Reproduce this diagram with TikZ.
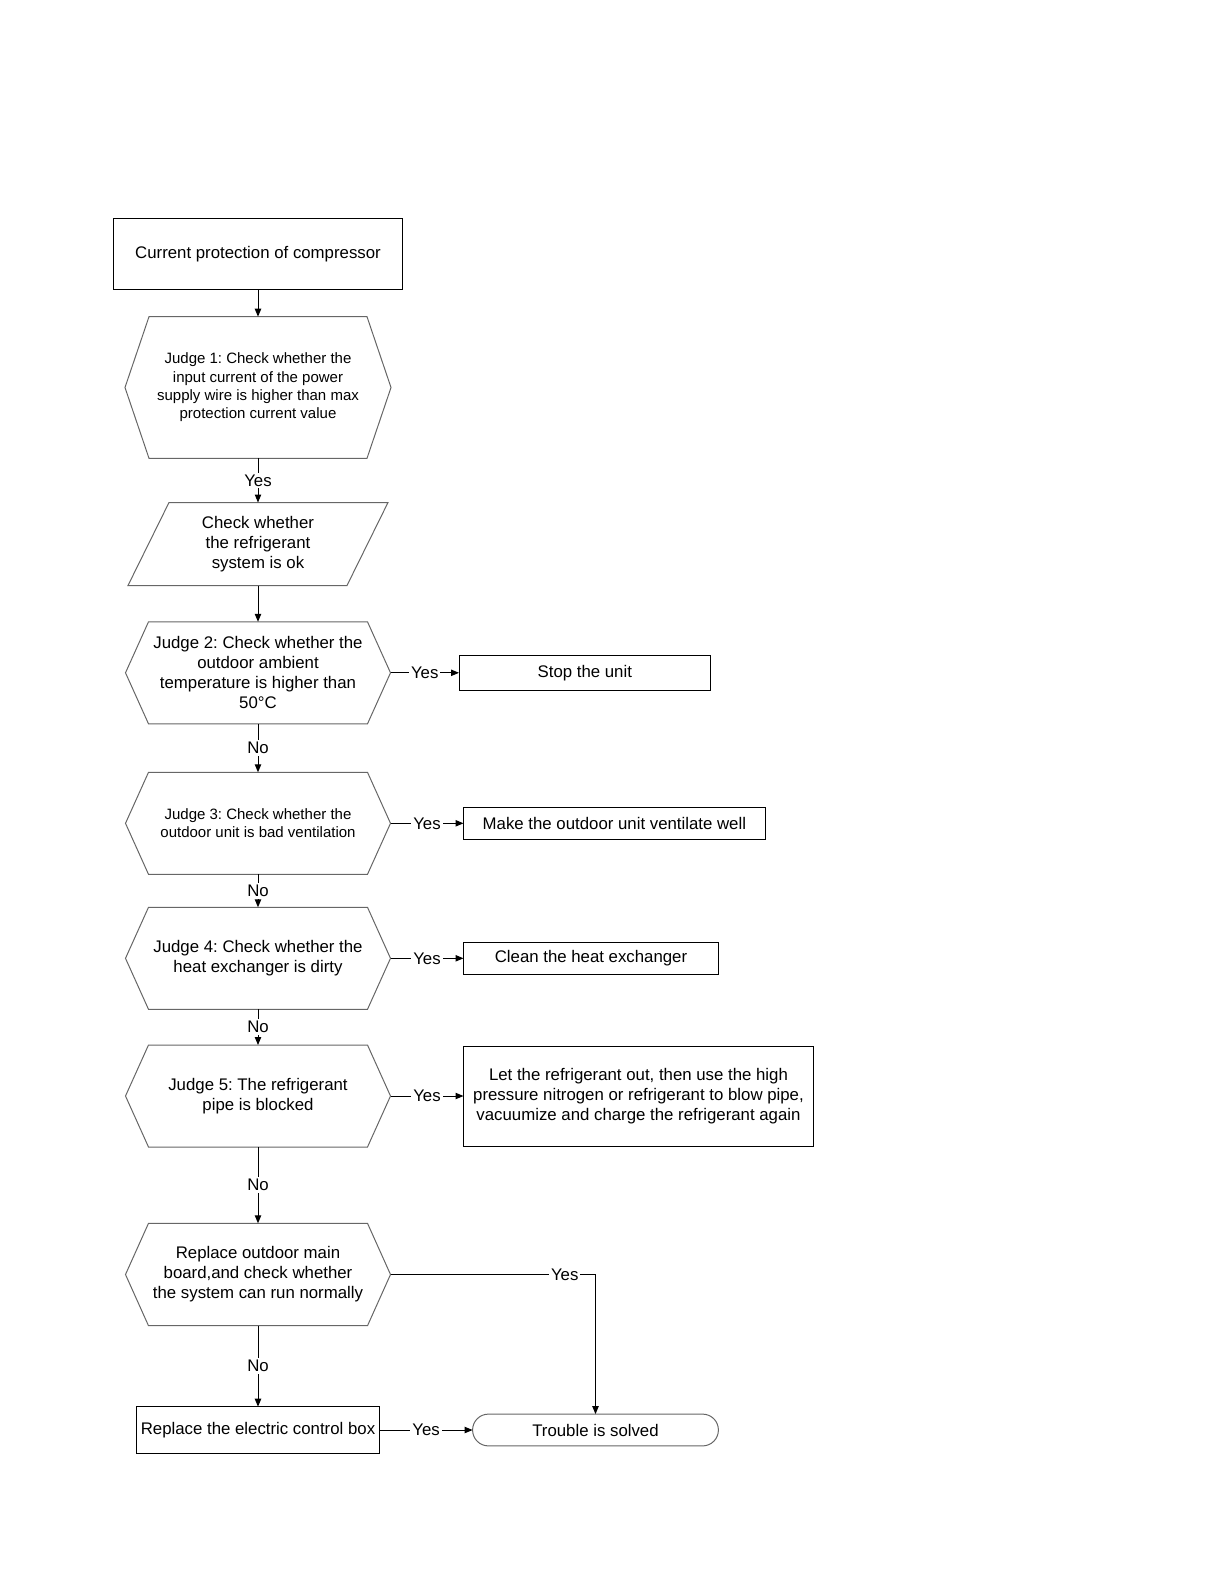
\documentclass[tikz,border=0pt]{standalone}
\usepackage{fontspec}
\setmainfont{Liberation Sans}
\frenchspacing
\usetikzlibrary{arrows.meta,positioning,calc}

\begin{document}
\begin{tikzpicture}[x=0.5bp,y=-0.5bp,>={Triangle[length=4bp,width=3.2bp]},
  every node/.style={font=\fontsize{8.4bp}{10bp}\selectfont,align=center,inner sep=0pt,outer sep=0pt},
  small/.style={font=\fontsize{7.5bp}{9.2bp}\selectfont},
  box/.style={draw,line width=0.5bp},
  judge/.style={minimum width=132.5bp,minimum height=51bp},
  lbl/.style={fill=white,inner sep=1bp},
  outline/.style={draw=black!60,line width=0.5bp},
  conn/.style={->,line width=0.5bp}]
\useasboundingbox (0,0) rectangle (1224,1584);

% main column
\node[box,minimum width=144bp,minimum height=35.5bp] (start) at (258,254) {Current protection of compressor};
\node[small,minimum width=133bp,minimum height=70.8bp] (j1) at (258,387.5)
  {Judge 1: Check whether the\\input current of the power\\supply wire is higher than max\\protection current value};
\node[minimum width=130bp,minimum height=41.5bp] (chk) at (258,544) {Check whether\\the refrigerant\\system is ok};
\node[judge] (j2) at (258,672.8) {Judge 2: Check whether the\\outdoor ambient\\temperature is higher than\\50°C};
\node[judge,small] (j3) at (258,823.3) {Judge 3: Check whether the\\outdoor unit is bad ventilation};
\node[judge] (j4) at (258,958.3) {Judge 4: Check whether the\\heat exchanger is dirty};
\node[judge] (j5) at (258,1096) {Judge 5: The refrigerant\\pipe is blocked};
\node[judge,minimum height=51.2bp] (j6) at (258,1274.5) {Replace outdoor main\\board,and check whether\\the system can run normally};
\node[box,minimum width=121.7bp,minimum height=23.3bp] (elec) at (258,1430) {Replace the electric control box};

% actions
\node[box,minimum width=125.8bp,minimum height=17.5bp] (stop) at (584.8,672.8) {Stop the unit};
\node[box,minimum width=150.9bp,minimum height=16bp] (vent) at (614.4,823.3) {Make the outdoor unit ventilate well};
\node[box,minimum width=127.5bp,minimum height=15.9bp] (clean) at (591,958.3) {Clean the heat exchanger};
\node[box,minimum width=175bp,minimum height=50bp] (blow) at (638.5,1096)
  {Let the refrigerant out, then use the high\\pressure nitrogen or refrigerant to blow pipe,\\vacuumize and charge the refrigerant again};
\node[draw=black!60,line width=0.5bp,rounded corners=7.9bp,minimum width=122.9bp,minimum height=15.9bp] (solved) at (595.5,1430) {Trouble is solved};

% outlines
\foreach \n/\d in {j1/24,j2/23,j3/23,j4/23,j5/23,j6/23}
  \draw[outline] (\n.west) -- ($(\n.north west)+(\d,0)$) -- ($(\n.north east)+(-\d,0)$) -- (\n.east)
    -- ($(\n.south east)+(-\d,0)$) -- ($(\n.south west)+(\d,0)$) -- cycle;
\draw[outline] (chk.south west) -- ($(chk.north west)+(41,0)$) -- (chk.north east) -- ($(chk.south east)+(-41,0)$) -- cycle;

% connectors
\draw[conn] (start) -- (j1);
\draw[conn] (j1) -- node[lbl]{Yes} (chk);
\draw[conn] (chk) -- (j2);
\foreach \a/\b in {j2/j3,j3/j4,j4/j5,j5/j6,j6/elec}
  \draw[conn] (\a) -- node[lbl]{No} (\b);
\foreach \a/\b in {j2/stop,j3/vent,j4/clean,j5/blow,elec/solved}
  \draw[conn] (\a) -- node[lbl]{Yes} (\b);
\draw[conn] (j6.east) -| node[lbl,pos=0.425]{Yes} (solved.north);
\end{tikzpicture}
\end{document}
